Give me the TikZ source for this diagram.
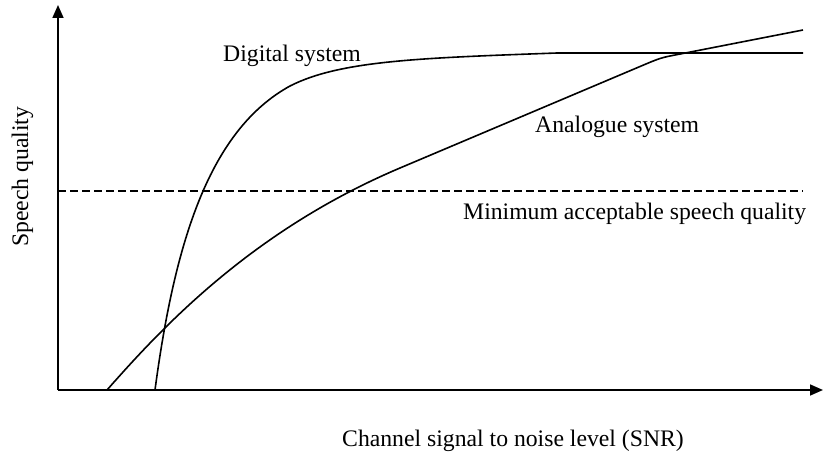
\documentclass[tikz,border=0pt]{standalone}
\usepackage{fontspec}
\setmainfont{Liberation Serif}
\usetikzlibrary{arrows.meta}
\tikzset{
  axisline/.style={line width=1.7pt, -{Triangle[length=13pt,width=11pt]}},
  curveline/.style={line width=1.6pt, line join=round},
  minline/.style={line width=1.3pt, dash pattern=on 7.5pt off 4.5pt},
  lbl/.style={inner sep=0pt, font=\fontsize{23.7}{28}\selectfont}
}
\begin{document}
\begin{tikzpicture}[x=1pt,y=-1pt]
\useasboundingbox (0,0) rectangle (824,454);
\coordinate (O) at (58,390);
\coordinate (xend) at (823,390);
\coordinate (yend) at (58,5);
\coordinate (dA) at (58,191);
\coordinate (dB) at (803,191);
% axes
\draw[axisline] (O) -- (xend);
\draw[axisline] (O) -- (yend);
% minimum line
\draw[minline] (dA) -- (dB);
% digital system curve
\draw[curveline] (155,390) .. controls (175,240) and (210,130) .. (290,86)
  .. controls (340,60.5) and (420,58) .. (557,53) -- (803,53);
% analogue system curve
\draw[curveline] (107,390) .. controls (160,330) and (250,231.5) .. (400,168)
  -- (645,64.4) .. controls (655,60.2) and (660,58) .. (670,56) -- (803,30);
% labels
\node[lbl, anchor=base west] (digital) at (223,62) {Digital system};
\node[lbl, anchor=base west] (analogue) at (535,133) {Analogue system};
\node[lbl, anchor=base west] (minimum) at (463,220) {Minimum acceptable speech quality};
\node[lbl, anchor=base west] (xlabel) at (342,446) {Channel signal to noise level (SNR)};
\node[lbl, anchor=base west, rotate=90] (ylabel) at (28,247) {Speech quality};
\end{tikzpicture}
\end{document}
